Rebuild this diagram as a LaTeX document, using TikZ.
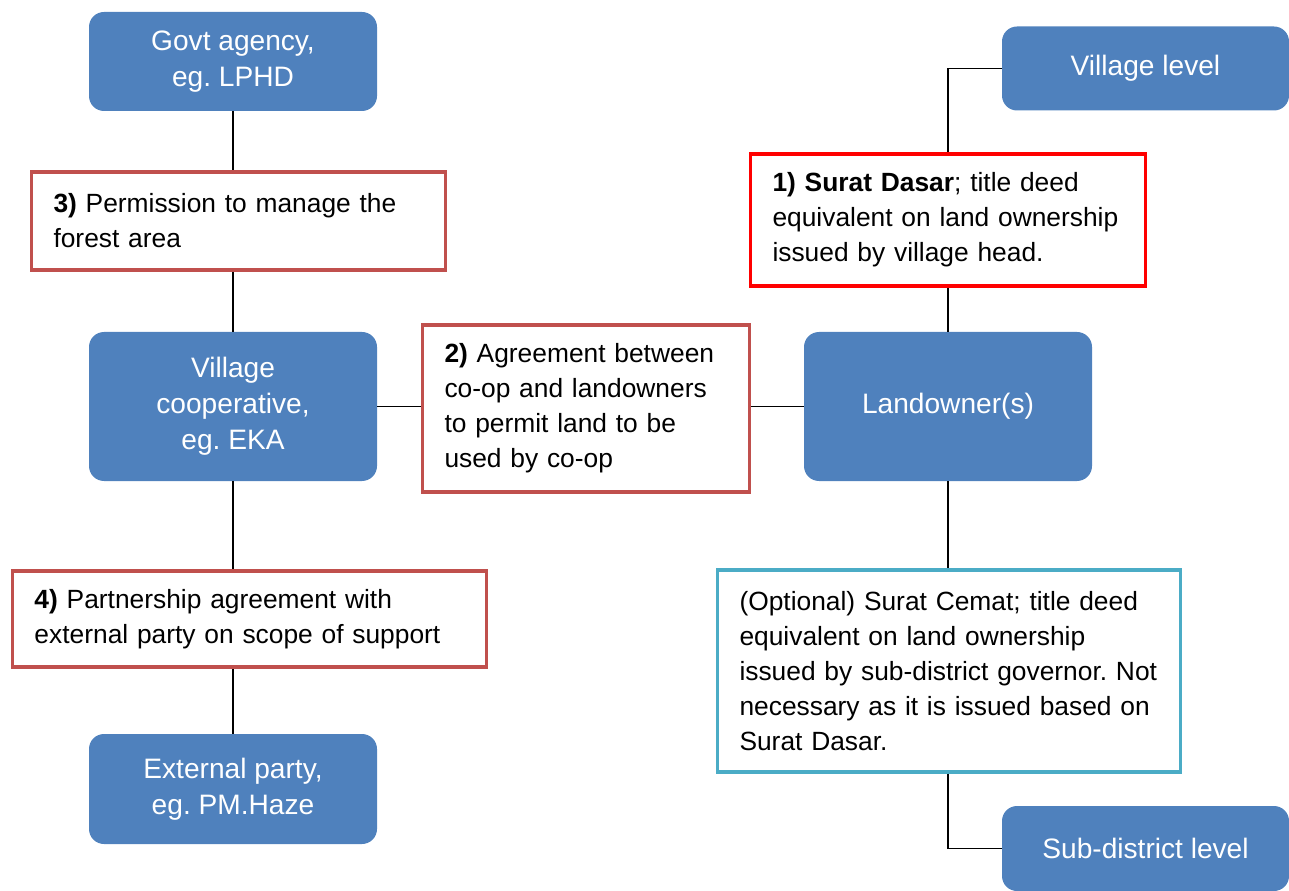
\documentclass[tikz,border=0pt]{standalone}
\usepackage{fontspec}
\setmainfont{Liberation Sans}
\usepackage{tikz}
\usetikzlibrary{calc}
\definecolor{orgblue}{HTML}{4F81BD}
\definecolor{docred}{HTML}{C0504D}
\definecolor{brightred}{HTML}{FF0000}
\definecolor{docteal}{HTML}{4BACC6}
\tikzset{
	party/.style={draw=none, fill=orgblue, rounded corners=0.3cm, text=white, align=center, minimum width=5.76cm, font=\fontsize{16}{20.5}\selectfont},
	paper/.style={draw=#1, line width=2.2pt, fill=white, inner xsep=0.44cm, align=left, font=\fontsize{15}{19.9}\selectfont},
	link/.style={line width=0.8pt, black}
}
\frenchspacing

\begin{document}
\begin{tikzpicture}
			%%%%% START %%%%%
			\useasboundingbox (0, 0) rectangle (25.78, -17.82);
			
			% parties
			\node[party, minimum height=1.98cm] (govt) at (4.66, -1.23) {Govt agency,\\eg. LPHD};
			\node[party, minimum height=2.98cm] (coop) at (4.66, -8.13) {Village\\cooperative,\\eg. EKA};
			\node[party, minimum height=2.2cm] (ext) at (4.66, -15.78) {External party,\\eg. PM.Haze};
			\node[party, minimum height=2.98cm] (owner) at (18.96, -8.13) {Landowner(s)};
			\node[party, minimum width=5.74cm, minimum height=1.68cm] (vlevel) at (22.91, -1.37) {Village level};
			\node[party, minimum width=5.74cm, minimum height=1.7cm] (sdlevel) at (22.91, -16.97) {Sub-district level};
			
			% documents
			\node[paper=docred, minimum height=1.96cm, text width=7.4cm] (permit) at (4.77, -4.42) {\textbf{3)} Permission to manage the\\forest area};
			\node[paper=docred, minimum height=3.34cm, text width=5.66cm] (agree) at (11.72, -8.17) {\textbf{2)} Agreement between\\co-op and landowners\\to permit land to be\\used by co-op};
			\node[paper=brightred, minimum height=2.64cm, text width=7.02cm] (dasar) at (18.96, -4.40) {\textbf{1) Surat Dasar}; title deed\\equivalent on land ownership\\issued by village head.};
			\node[paper=docteal, minimum height=4.04cm, text width=8.38cm] (cemat) at (18.98, -13.42) {(Optional) Surat Cemat; title deed\\equivalent on land ownership\\issued by sub-district governor. Not\\necessary as it is issued based on\\Surat Dasar.};
			\node[paper=docred, minimum height=1.92cm, text width=8.6cm] (partner) at (4.99, -12.38) {\textbf{4)} Partnership agreement with\\external party on scope of support};
			
			% left column
			\draw[link] (govt.south) -- (govt.south |- permit.north);
			\draw[link] (govt.south |- permit.south) -- (coop.north);
			\draw[link] (coop.south) -- (coop.south |- partner.north);
			\draw[link] (coop.south |- partner.south) -- (ext.north);
			
			% middle row
			\draw[link] (coop.east) -- (agree.west |- coop.east);
			\draw[link] (agree.east |- owner.west) -- (owner.west);
			
			% right column
			\draw[link] (vlevel.west) -| (dasar.north);
			\draw[link] (dasar.south) -- (owner.north);
			\draw[link] (owner.south) -- (owner.south |- cemat.north);
			\draw[link] (owner.south |- cemat.south) |- (sdlevel.west);
			
			%%%%% END %%%%%
		\end{tikzpicture}
\end{document}
